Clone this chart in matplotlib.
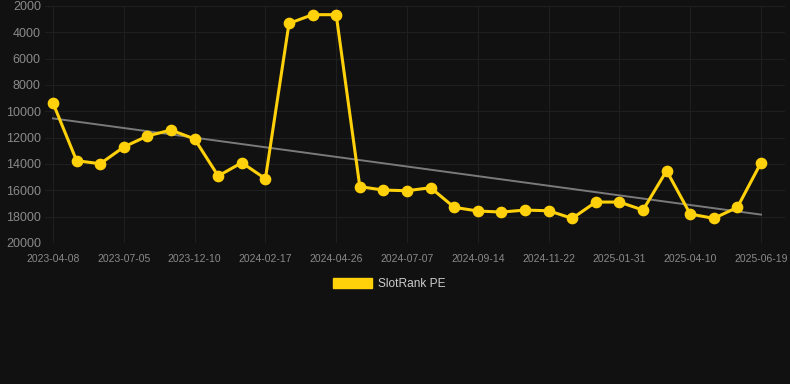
import matplotlib
matplotlib.use("Agg")
import matplotlib.pyplot as plt
from matplotlib.patches import Patch
import numpy as np

""" dados """
datas = [
    "2023-04-08", "", "", "2023-07-05", "", "", "2023-12-10", "", "", "2024-02-17",
    "", "", "2024-04-26", "", "", "2024-07-07", "", "", "2024-09-14", "", "",
    "2024-11-22", "", "", "2025-01-31", "", "", "2025-04-10", "", "", "2025-06-19",
]
rank = [
    9370, 13750, 13980, 12710, 11870, 11420, 12100, 14910, 13900, 15120,
    3320, 2660, 2660, 15720, 15980, 16030, 15800, 17290, 17570, 17650,
    17500, 17550, 18130, 16890, 16890, 17500, 14510, 17800, 18130, 17290, 13900,
]
y_ticks = [2000, 4000, 6000, 8000, 10000, 12000, 14000, 16000, 18000, 20000]
serie = "SlotRank PE"

fundo = "#111111"
amarelo = "#FFD10A"
cinza_txt = "#8a8a8a"

plt.rcParams["font.family"] = ["Liberation Sans", "DejaVu Sans"]

fig = plt.figure(figsize=(7.9, 3.84), dpi=100, facecolor=fundo)
ax = fig.add_axes([45 / 790, 141 / 384, 740 / 790, 237 / 384])
ax.set_facecolor(fundo)

x = np.arange(len(rank))

# linha de tendência (regressão linear)
coef = np.polyfit(x, rank, 1)
ax.plot(x, np.polyval(coef, x), color="#7a7a7a", linewidth=1.4, zorder=2)

ax.plot(x, rank, color=amarelo, linewidth=2.2, marker="o", markersize=7.4,
        markerfacecolor=amarelo, markeredgecolor=amarelo, zorder=3)

ax.set_ylim(20000, 2000)
ax.set_yticks(y_ticks)
ax.set_xlim(-8 / 23.6, 30 + 24 / 23.6)
pos = [i for i, d in enumerate(datas) if d]
ax.set_xticks(pos)
ax.set_xticklabels([datas[i] for i in pos])

ax.grid(True, color="#1f1f1f", linewidth=0.8, zorder=0)
for s in ax.spines.values():
    s.set_visible(False)
ax.tick_params(axis="y", length=0, pad=3, labelsize=9, labelcolor=cinza_txt)
ax.tick_params(axis="x", length=0, pad=8, labelsize=7.5, labelcolor=cinza_txt)

fig.legend(handles=[Patch(facecolor=amarelo, edgecolor=amarelo, label=serie)],
           loc="center", bbox_to_anchor=(389.5 / 790, 1 - 284 / 384), frameon=False,
           fontsize=8.6, labelcolor="#cccccc", handlelength=3.3, handleheight=1.0,
           handletextpad=0.5)

fig.savefig("out.png", dpi=100, facecolor=fundo)
